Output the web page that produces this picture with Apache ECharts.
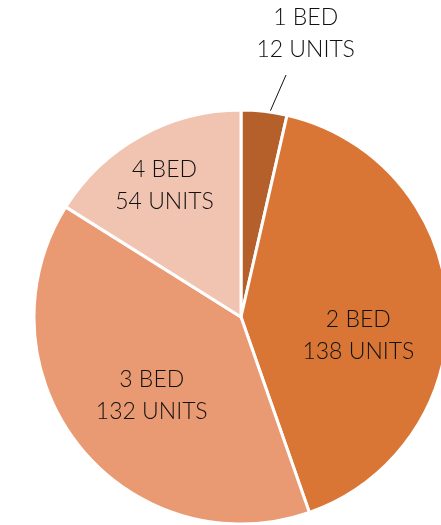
<!DOCTYPE html>
<html>
<head>
<meta charset="utf-8">
<title>Units by bedroom</title>
<script src="https://cdn.jsdelivr.net/npm/echarts@6/dist/echarts.min.js"></script>
</head>
<body style="margin:0">
<div id="container" style="width:441px;height:525px"></div>
<script type="text/javascript">
// data
var categories = ['1 BED', '2 BED', '3 BED', '4 BED'];
var units = [12, 138, 132, 54];
var colors = ['#B5602B', '#D97635', '#EA9A73', '#F1C4B1'];
// nudges for the label boxes (px)
var labelShift = [[32, -38], [11, 25], [-6, 12], [-25, -38]];

var cx = 241, cy = 317, radius = 207;
var total = units.reduce(function (a, b) { return a + b; }, 0);
var chart = echarts.init(document.getElementById('container'));

var pieData = categories.map(function (c, i) {
    var item = {name: c, value: units[i], itemStyle: {color: colors[i]}};
    if (i === 0) {
        item.label = {position: 'outside', align: 'center'};
        item.labelLine = {show: true, showAbove: true, length: 40, length2: 0, lineStyle: {color: '#111', width: 1}};
    }
    return item;
});

var option = {
    animation: false,
    series: [{
        type: 'pie',
        center: [cx, cy],
        radius: [0, radius],
        startAngle: 90,
        clockwise: true,
        itemStyle: {borderColor: '#fff', borderWidth: 3},
        label: {
            show: true,
            position: 'inside',
            formatter: function (p) { return p.name + '\n' + p.value + ' UNITS'; },
            fontFamily: 'Lato',
            fontWeight: 300,
            fontSize: 23,
            lineHeight: 32,
            color: '#111',
            align: 'center'
        },
        labelLine: {show: false, showAbove: true},
        labelLayout: function (p) {
            var s = labelShift[p.dataIndex];
            var o = {dx: s[0], dy: s[1]};
            if (p.dataIndex === 0) {
                o.align = 'center';
                // leader runs along the slice's mid angle direction, from inside the slice up under the text
                var mid = Math.PI * units[0] / total;
                var r0 = radius * 0.91;
                var start = [cx + r0 * Math.sin(mid), cy - r0 * Math.cos(mid)];
                var end = [cx + 45, cy - 242];
                o.labelLinePoints = [start, end];
            }
            return o;
        },
        data: pieData
    }]
};
chart.setOption(option);
</script>
</body>
</html>
